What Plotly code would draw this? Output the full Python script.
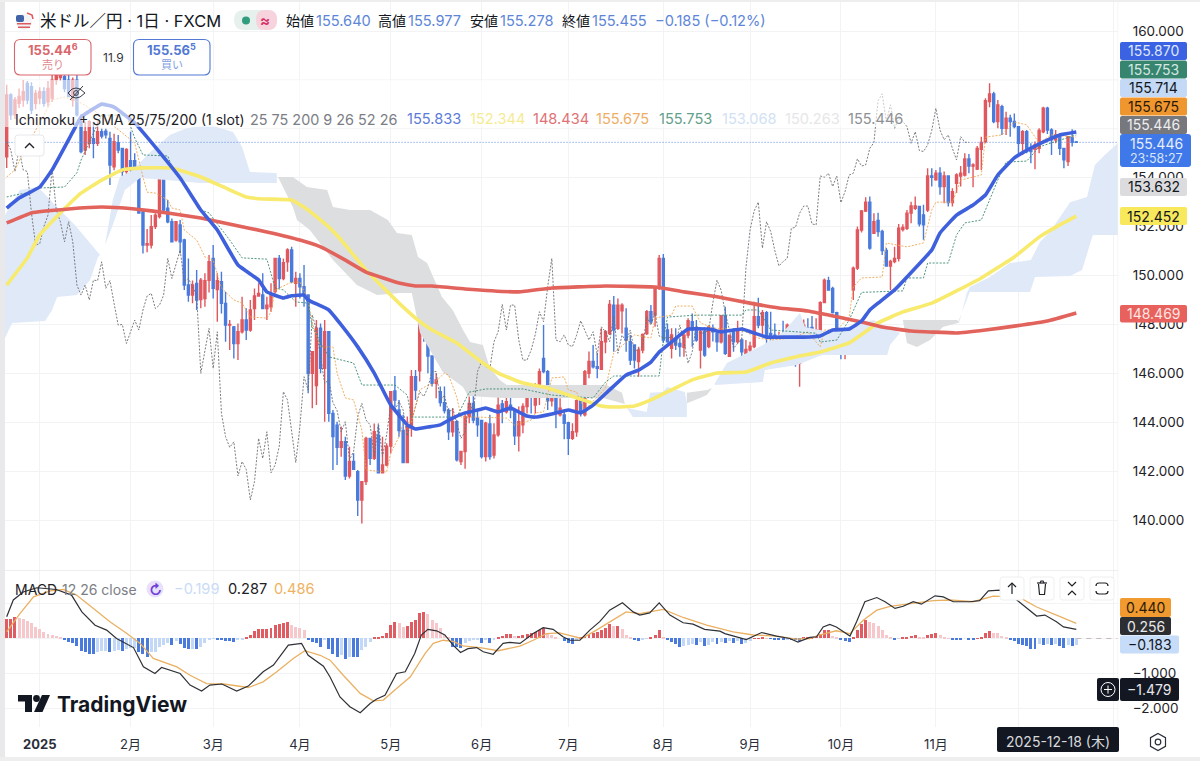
import plotly.graph_objects as go

W, H = 1200, 761
FONT = "Inter, 'Noto Sans CJK JP', sans-serif"

# ---------- candles (bar index 0 = 2024-12-19, 259 = last bar) ----------
opens = [154.85,157.38,156.57,157.04,157.18,157.86,157.72,157.04,157.26,157.52,
157.1,157.26,158.0,158.1,158.13,157.99,157.18,157.99,156.29,155.13,
155.41,155.6,155.41,155.88,155.9,155.61,154.45,155.43,155.2,154.25,
154.7,154.7,154.38,152.6,151.25,151.25,152.0,152.41,154.38,152.75,
152.2,151.45,152.07,151.45,149.61,149.2,149.68,149.02,149.06,149.8,
150.7,149.43,149.75,148.86,147.97,147.9,147.22,147.7,148.18,147.77,
148.65,149.16,149.2,148.65,148.72,149.34,150.7,149.88,150.56,151.04,
149.68,149.88,149.54,149.2,146.0,145.5,147.84,146.2,147.7,144.36,
143.88,142.97,143.2,141.8,142.39,141.98,140.82,141.57,143.34,142.52,
143.47,141.93,142.25,143.02,145.28,144.5,143.66,142.35,143.82,145.86,
146.1,148.39,147.43,146.71,145.59,145.25,144.8,144.48,143.61,144.02,
142.39,142.8,144.23,144.77,144.16,144.07,142.59,143.93,142.66,143.48,
144.75,144.43,144.7,144.5,143.44,143.89,144.64,145.25,144.7,145.39,
146.61,146.07,144.88,145.11,144.3,144.3,143.98,143.34,143.61,144.88,
144.3,146.0,146.48,146.27,146.16,147.29,147.63,148.79,147.84,148.56,
147.84,147.29,147.16,146.48,146.95,147.63,148.52,148.38,149.48,150.7,
147.77,147.02,147.43,147.22,147.06,147.56,148.11,147.77,146.95,147.7,
147.09,147.84,147.63,147.29,148.35,146.7,147.7,147.29,147.36,146.79,
146.95,147.09,148.31,147.97,148.48,147.63,147.56,147.3,147.43,147.16,
147.5,147.29,146.41,146.88,147.84,147.88,147.63,147.63,148.89,149.79,
149.47,148.48,147.77,147.0,147.2,149.41,150.3,151.86,152.64,153.0,
151.73,152.25,151.8,151.02,150.39,150.57,150.7,151.88,151.93,152.55,
152.75,152.82,152.48,152.68,154.07,153.91,154.18,153.64,154.07,152.98,
153.77,154.07,154.11,154.77,154.48,154.35,155.16,155.48,157.11,157.43,
156.3,156.9,156.02,156.43,156.3,156.09,155.41,155.88,155.2,155.16,
155.2,155.88,156.84,155.95,155.55,155.7,155.2,154.66,155.64,155.46]

highs = [157.8,157.45,157.3,157.65,158.0,157.95,157.9,157.6,157.7,157.7,
157.95,158.2,158.4,158.5,158.5,158.3,158.1,158.2,156.6,156.29,
156.35,156.29,156.3,156.0,156.0,155.88,155.8,155.75,155.2,155.2,
155.88,155.0,154.4,152.7,151.9,152.47,152.55,154.73,154.73,153.09,
152.33,152.2,152.27,151.5,150.7,149.8,150.22,149.9,150.09,150.84,
151.25,150.09,150.15,149.34,148.18,147.93,148.04,149.13,148.66,149.0,
149.47,149.68,150.09,149.13,149.68,150.7,150.84,150.7,151.11,151.18,
150.15,150.09,150.43,149.2,146.9,148.18,148.04,148.18,147.7,144.5,
144.02,143.82,143.41,143.0,142.73,142.05,141.57,143.41,143.34,143.95,
143.88,143.41,143.14,145.25,145.89,144.91,144.3,144.23,146.14,146.14,
148.45,148.43,147.5,146.71,146.0,145.46,145.46,144.57,144.57,144.09,
142.8,144.36,145.05,146.27,144.5,144.09,144.02,144.3,143.96,145.05,
144.91,145.25,145.43,144.5,144.64,144.77,145.32,145.59,145.59,146.2,
147.98,146.14,145.52,145.18,144.98,144.43,144.02,143.96,145.05,144.91,
146.14,146.89,147.16,146.82,147.84,147.77,149.0,149.16,149.06,148.86,
148.66,147.57,147.16,147.09,147.63,148.59,148.79,149.54,150.84,150.88,
148.04,147.84,147.84,147.43,147.63,148.25,148.45,148.18,147.77,147.88,
147.97,148.0,147.7,148.38,148.72,147.56,147.84,148.15,147.43,147.36,
147.29,148.93,149.09,148.59,148.55,148.52,148.04,147.7,148.15,148.04,
147.7,147.36,146.95,148.2,148.25,148.34,148.25,148.95,149.88,149.95,
149.54,148.52,147.77,147.22,147.77,150.37,152.0,152.68,153.2,153.23,
152.55,152.57,151.87,151.12,150.64,151.18,152.11,152.1,152.68,153.02,
153.23,152.84,152.89,154.39,154.39,154.32,154.43,154.25,154.07,153.57,
154.18,154.48,155.0,154.97,154.59,155.3,155.68,157.25,157.86,157.52,
157.18,156.98,156.7,156.57,156.63,156.09,155.95,155.95,155.41,155.48,
156.02,156.9,156.9,156.02,155.95,155.82,155.2,155.68,155.98,155.5]

lows = [154.4,156.36,156.4,156.85,156.9,157.0,156.6,156.8,157.0,156.9,
156.9,157.1,157.8,157.95,157.5,157.3,156.9,156.5,155.0,154.93,
155.2,154.8,155.3,155.6,155.6,153.7,154.3,155.0,153.77,153.9,
154.04,154.04,152.55,150.9,150.95,151.1,151.9,152.33,152.55,152.14,
151.38,151.38,150.9,149.41,148.93,148.86,148.59,148.66,148.72,149.3,
149.06,148.11,148.45,147.29,146.95,146.61,146.54,147.63,147.36,147.7,
148.18,149.13,148.65,148.18,148.52,149.27,149.47,149.81,150.15,149.68,
148.72,149.06,148.72,145.18,144.57,144.7,146.0,144.02,144.02,142.05,
142.25,142.59,141.64,141.7,142.07,140.16,139.86,141.43,142.25,142.45,
141.93,141.91,142.2,142.73,144.43,143.41,142.35,142.35,143.41,144.91,
145.66,147.29,146.0,145.46,144.98,144.64,144.36,143.27,143.41,142.39,
142.25,142.1,143.96,143.96,143.41,142.52,142.39,142.46,142.52,143.41,
143.96,144.36,144.16,143.07,142.8,143.55,144.36,144.36,144.36,144.7,
146.0,144.5,144.64,143.75,144.23,143.3,142.66,143.27,143.41,144.23,
144.23,145.8,146.2,145.8,146.14,146.82,147.57,146.88,147.77,147.63,
146.88,146.34,146.2,145.86,146.82,147.57,148.04,147.9,149.41,147.25,
147.25,146.61,146.95,146.68,146.68,147.43,147.09,147.29,146.2,146.68,
147.02,147.3,146.88,147.22,146.75,146.68,146.88,147.22,146.68,146.75,
146.75,147.02,147.84,147.5,146.82,147.16,146.34,147.09,147.09,147.09,
147.22,146.27,145.45,146.81,147.56,147.63,147.56,147.56,148.86,149.38,
148.45,147.36,146.57,146.57,146.95,149.0,150.23,151.76,152.6,151.05,
151.7,151.59,150.84,150.36,149.41,150.5,150.57,151.8,151.86,152.14,
152.68,152.0,151.46,152.6,153.64,153.88,153.3,152.95,152.82,152.82,
153.37,153.64,154.05,154.18,153.61,154.32,154.32,155.41,156.88,156.23,
156.02,155.75,155.75,155.68,156.02,154.93,154.93,155.0,154.59,154.35,
155.0,155.82,155.79,154.93,155.41,154.93,154.39,154.48,155.28,155.44]

closes = [157.38,156.57,157.18,157.32,157.52,157.18,156.77,157.45,157.52,157.04,
157.65,157.99,158.2,158.2,157.65,157.32,157.99,156.57,155.07,155.88,
156.29,155.41,155.88,155.7,155.75,154.52,155.47,155.13,154.25,155.16,
154.32,154.25,152.55,151.25,151.3,152.0,152.47,154.38,152.68,152.2,
151.38,152.2,151.38,149.61,149.2,149.61,149.0,149.81,149.79,150.56,
149.48,149.79,148.86,147.97,148.0,147.22,147.7,148.18,147.77,148.59,
149.16,149.27,148.65,148.79,149.2,150.7,149.88,150.52,151.04,149.75,
149.88,149.54,149.2,146.0,146.88,147.84,146.2,147.7,144.36,143.41,
142.97,143.2,141.8,142.39,142.07,140.82,141.57,143.34,142.52,143.61,
141.93,142.25,143.02,145.25,144.91,143.66,142.35,143.82,145.86,145.32,
148.39,147.77,146.71,145.59,145.73,144.8,144.48,143.61,144.02,142.46,
142.8,144.23,144.77,144.09,143.89,142.59,143.96,142.59,143.48,144.7,
144.5,144.84,144.5,143.44,144.02,144.64,145.25,145.05,145.43,146.07,
146.07,144.88,145.11,144.36,144.57,143.96,143.34,143.61,144.88,144.36,
146.07,146.48,146.27,146.2,147.29,147.7,148.82,147.77,148.79,148.79,
147.36,146.54,146.54,146.95,147.59,148.52,148.11,149.54,150.7,147.36,
147.29,147.57,147.16,147.09,147.56,148.15,147.77,147.36,147.7,146.75,
147.9,147.7,147.29,148.35,146.82,147.56,147.29,147.77,146.88,146.98,
147.11,148.31,147.97,148.48,147.52,147.47,147.43,147.5,147.16,147.97,
147.29,146.41,146.88,147.97,147.63,147.66,147.77,148.89,149.81,149.4,
148.48,147.77,147.02,147.22,147.43,150.3,151.86,152.64,153.0,151.12,
152.2,151.8,151.02,150.39,150.57,150.7,151.93,151.97,152.55,152.84,
152.84,152.11,152.07,154.07,154.02,154.18,153.64,154.07,152.98,153.43,
154.11,154.18,154.77,154.48,154.52,155.2,155.44,157.15,157.43,156.3,
156.98,156.02,156.43,156.3,156.09,155.41,155.88,155.11,155.07,155.34,
155.93,156.84,155.95,155.55,155.75,155.2,154.73,155.68,155.45,155.446]

assert len(opens) == len(highs) == len(lows) == len(closes) == 260
bars = list(range(260))

# ---------- moving averages ----------
sma25_x = [0,3,8,11,16,18,23,26,31,37,42,47,51,56,61,63,67,69,72,73,78,81,85,89,93,97,99,102,105,108,111,115,116,119,122,126,128,132,136,139,142,146,150,153,156,158,161,165,170,173,178,181,184,189,193,197,200,204,207,209,211,215,218,224,226,230,234,237,240,244,248,252,255,259]
sma25_y = [152.76,153.17,153.62,154.32,155.87,156.48,157.01,156.89,156.24,155.05,153.99,152.68,151.86,150.43,149.82,149.33,149.08,149.17,149.2,149.0,148.59,147.98,147.08,146.01,144.7,143.89,143.72,143.8,143.89,144.17,144.38,144.54,144.58,144.42,144.58,144.25,144.21,144.34,144.5,144.38,144.7,145.32,145.93,146.13,146.46,146.87,147.28,147.81,147.81,147.69,147.81,147.65,147.48,147.48,147.48,147.53,147.77,147.81,148.14,148.59,148.87,149.41,149.94,151.04,151.74,152.47,152.88,153.29,154.11,154.81,155.21,155.54,155.75,155.87]

sma75_x = [0,5,8,13,18,23,28,33,40,47,53,58,62,69,73,78,81,87,95,99,103,109,115,119,125,131,136,141,144,147,152,156,161,166,172,179,185,191,197,204,211,217,224,230,236,244,250,255,259]
sma75_y = [149.61,150.72,151.66,152.56,153.37,153.9,154.32,154.4,154.4,154.03,153.58,153.21,153.13,153.09,152.68,151.98,151.45,150.22,148.87,148.26,147.77,147.24,146.46,146.01,145.6,145.4,145.11,144.83,144.66,144.62,144.66,144.91,145.32,145.73,146.01,146.05,146.42,146.67,146.87,147.24,148.06,148.51,148.87,149.37,149.9,150.76,151.57,152.07,152.43]

sma200_x = [0,6,15,23,31,39,47,55,63,71,76,82,87,95,99,103,111,124,132,145,157,164,172,180,187,194,199,207,212,219,230,237,244,252,259]
sma200_y = [152.15,152.56,152.72,152.8,152.72,152.56,152.35,152.07,151.78,151.45,151.17,150.63,150.14,149.69,149.57,149.57,149.45,149.33,149.49,149.57,149.53,149.33,149.13,148.87,148.67,148.55,148.38,148.1,147.89,147.73,147.65,147.77,147.93,148.14,148.47]

# ---------- Ichimoku lines ----------
tenkan_x = [0,2,4,11,14,18,22,31,33,34,36,39,40,42,43,46,48,50,52,55,57,59,63,64,65,69,71,73,74,76,79,80,82,84,86,87,92,93,95,96,98,100,102,103,106,107,109,110,114,121,123,127,128,130,132,135,136,138,140,145,147,152,156,157,161,162,166,168,171,178,182,185,190,194,197,198,201,204,205,207,212,213,218,222,224,225,229,231,236,237,241,244,247,250,253,259]
tenkan_y = [154.03,154.32,155.01,157.18,157.3,157.06,156.65,155.42,154.03,153.41,153.37,153.09,152.76,152.68,151.86,151.45,150.76,150.63,149.49,149.0,148.87,148.3,148.26,148.5,149.41,149.73,149.73,149.0,148.06,147.08,147.08,146.01,144.99,144.91,143.68,142.05,141.96,142.74,143.4,143.97,144.01,145.32,145.52,145.52,146.01,145.93,145.03,144.21,144.21,144.17,143.88,144.09,144.38,144.42,145.81,145.85,145.32,145.23,144.5,145.4,146.83,147.57,147.44,148.26,148.38,148.75,148.75,148.06,147.85,147.77,147.44,147.36,147.44,147.69,147.08,147.77,147.77,148.3,149.53,149.9,149.94,151.33,151.17,151.33,152.68,153.0,153.0,153.9,154.11,155.66,155.75,156.28,156.16,155.42,155.75,155.66]

kijun_x = [0,2,6,8,14,17,18,23,29,31,33,39,40,47,49,54,57,63,65,67,70,73,74,78,84,86,94,97,98,109,112,116,125,132,142,145,147,158,159,160,167,178,179,182,185,196,197,201,204,207,217,218,222,223,228,230,232,236,238,240,242,247,250,253,259]
kijun_y = [153.21,153.29,153.41,153.58,153.62,154.2,154.72,156.56,156.56,155.62,154.93,154.89,154.44,152.68,152.56,151.45,150.72,150.67,149.49,149.41,148.92,148.87,147.89,146.67,146.42,145.52,145.52,145.11,144.21,144.21,145.23,145.36,145.36,145.11,144.99,145.64,145.89,145.89,147.36,148.3,148.38,148.38,148.59,148.59,147.77,147.64,147.28,147.36,148.18,149.31,149.37,149.9,149.9,150.51,150.51,151.66,152.15,152.27,153.09,153.91,154.64,154.68,155.26,155.42,155.75]

# chikou span: the closes drawn 26 bars back
chikou_x = bars[:-26]
chikou_y = closes[26:]

# ---------- Ichimoku cloud outlines ----------
cloud_a_x = [-0.4,3.2,7.6,11.7,16.5,22.6,22.1,20.2,17,12.2,11,9.3,1.3,-0.4]
cloud_a_y = [152.47,153.5,153.62,152.88,152.07,150.84,150.76,149.82,149.2,149.12,148.59,148.14,148.06,147.44]
cloud_b_x = [23.8,25.7,27.4,30.6,34,39.5,43.7,49.2,54.8,57,58.9,65.4,65.4,56.5,46.8,39.5,32.3,28.6,25.7]
cloud_b_y = [151.25,153.09,154.03,154.32,154.93,155.75,156.03,156.16,155.87,155.26,154.23,154.19,153.78,153.78,153.78,153.9,153.99,153.5,152.07]
cloud_c_x = [65.7,69.3,72.7,77.6,79,83.1,88,92.3,94.5,98.1,99.6,101.8,105.4,108,110.5,112.2,115.3,117,119.4,121.1,137.1,145.3,149,149.7,144.4,136.4,120.2,111.7,110.5,105.6,100.1,98.1,95.2,89.7,84.8,79,73.4,70.3,69.3,66.9]
cloud_c_y = [154.03,154.03,153.62,153.5,152.8,152.68,152.68,152.27,151.74,151.66,150.76,150.51,149.12,148.59,147.77,147.28,147.16,146.22,145.73,145.52,145.52,145.52,145.2,144.74,144.99,144.99,144.99,145.07,145.44,146.05,147.65,149.28,149.28,149.2,149.61,150.63,151.86,152.27,152.8,153.62]
cloud_d_x = [150.2,155,155.8,158.9,159.9,164.2,164.7,164.7,151.6]
cloud_d_y = [144.58,144.42,145.2,145.24,145.44,145.24,144.78,144.21,144.21]
cloud_e_x = [164.7,169.6,170.8,169.6,167.9,164.7]
cloud_e_y = [145.2,145.32,145.4,145.12,144.99,144.78]
cloud_f_x = [171.5,174.4,183.1,188,192.1,193.3,199.3,202.5,209.8,216.3,213.9,213.2,197.4,191.4,183.6,183.1,171.5]
cloud_f_y = [145.6,146.42,147.16,147.69,148.47,147.89,147.69,147.85,148.18,147.65,147.16,146.75,146.75,146.34,146.13,145.64,145.52]
cloud_g_x = [217,230.1,230.8,230.3,226.7,223.6,220.4,218]
cloud_g_y = [148.18,148.18,148.1,148.06,147.89,147.36,147.08,147.24]
cloud_h_x = [230.8,232.5,233.2,238.1,242.9,248,250.2,252.6,257.5,261.6,263.5,265.9,269.1,269.1,263,260.4,257.5,249,247.8,233.2,230.3]
cloud_h_y = [148.18,149.28,149.53,149.94,150.51,150.63,151.37,151.78,153.0,153.21,154.52,154.93,155.42,151.66,151.66,150.22,149.98,149.94,149.33,149.33,148.06]

# ---------- MACD pane ----------
macd_hist = [.57,.57,.62,.59,.57,.5,.43,.33,.27,.19,
.14,.11,.08,.03,-.05,-.1,-.14,-.21,-.36,-.4,
-.43,-.44,-.38,-.36,-.35,-.38,-.36,-.33,-.36,-.3,
-.27,-.26,-.38,-.43,-.52,-.4,-.38,-.24,-.19,-.14,
-.19,-.08,-.17,-.27,-.3,-.29,-.31,-.24,-.14,-.05,
-.01,-.02,-.05,-.06,-.08,-.11,-.04,-.02,.05,.11,
.21,.26,.26,.27,.29,.38,.41,.43,.46,.38,
.33,.3,.24,-.03,-.1,-.14,-.24,-.05,-.3,-.43,
-.52,-.48,-.59,-.52,-.52,-.53,-.33,-.24,-.1,.03,
.05,.08,.17,.38,.48,.43,.33,.36,.48,.53,
.74,.76,.69,.52,.43,.29,.1,.02,-.24,-.24,
-.27,-.14,-.08,-.05,-.03,-.13,-.04,-.13,-.05,.02,
.08,.12,.12,.07,.07,.11,.14,.17,.19,.24,
.29,.14,.1,.05,0,-.08,-.14,-.17,-.05,.02,
.07,.14,.17,.19,.24,.31,.4,.36,.36,.27,
.11,.03,-.05,-.06,-.02,-.01,.03,.1,.24,.05,
-.05,-.1,-.17,-.23,-.21,-.19,-.17,-.19,-.11,-.21,
-.19,-.1,-.17,-.1,-.14,-.08,-.14,-.06,-.17,-.14,
-.08,.01,.01,.05,.01,-.01,-.03,-.03,-.05,-.03,
-.03,-.05,-.08,.02,.04,.05,.08,.14,.24,.24,
.08,.03,-.03,-.07,-.1,.05,.24,.4,.52,.46,
.43,.36,.24,.1,.02,-.02,-.01,.02,.04,.08,
.1,.03,.02,.11,.13,.16,.1,.05,.01,-.03,
-.03,-.03,0,-.02,-.02,.01,.03,.17,.22,.17,
.16,.07,.02,-.03,-.08,-.17,-.19,-.21,-.29,-.29,
-.17,-.19,-.17,-.19,-.17,-.21,-.26,-.19,-.21,-.18]

macd_x = [0,1.6,4,7.3,12,15.7,18.2,21.4,24.2,26.6,30.7,33.1,35.9,37.5,42,44.4,47.2,49.2,52.1,55.7,58.5,62.1,64.6,68.2,71.4,73,76.7,78.3,80.7,83.1,85.6,88,89.6,91.6,94.4,96.5,98.8,100.4,102,104.1,106.1,108.1,109.9,111.7,113.8,115.4,117.8,120.2,121.8,124.3,127.5,129.9,132.3,134.7,136.4,138.8,141.2,143.6,146,149.1,151.7,153.3,155.7,158,160.6,163.8,166.2,169,172.7,173.9,179.1,182.8,186.4,189.6,191.6,194.5,196.1,197.7,199.3,200.9,204.2,205.8,207.8,210.7,212.7,215.1,217.1,219.5,221.5,224.8,226.8,229.2,233.2,235.6,237.7,240.5,244.6,249.4,251.4,254.2,255.9,259]
macd_y = [.62,1.1,1.33,1.45,1.4,1.24,.76,.38,.24,0,-.26,-.81,-1.0,-.83,-1.0,-1.33,-1.5,-1.33,-1.3,-1.5,-1.36,-.95,-.76,-.19,-.14,-.48,-.79,-1.1,-1.67,-1.95,-2.12,-1.86,-1.73,-1.62,-1.0,-.95,-.43,.1,.26,.22,.1,-.19,-.4,-.29,-.26,-.38,-.45,-.14,-.11,-.14,.14,.31,.26,.05,-.05,-.05,.24,.48,.81,1.02,.76,.67,.73,1.02,.67,.45,.41,.26,.21,.14,-.03,.17,.07,0,-.1,.03,.05,.33,.4,.33,.07,.48,1.05,1.17,1.05,.86,.92,1.05,.98,1.22,1.19,1.05,1.05,1.08,1.36,1.38,1.1,.64,.67,.48,.33,.26]

signal_x = [0,3.2,6.5,10.5,13.7,16.9,21,25,29.1,32.3,35.5,41.2,44.4,48.4,52.5,58.5,62.1,65.4,69.4,72.2,75.9,78.3,81.5,85.6,88.8,91.2,94.4,97.7,101.3,103.3,105.7,108.1,110.5,114.6,119,124.3,127.5,130.7,133.9,137.2,139.2,142.8,146,150,153.3,159,163.8,169.5,175.9,180.8,186.4,191.2,194.5,196.9,200.9,204.2,207.4,210.7,213.9,218.7,224.4,228.4,234,238.9,243.8,246.2,249.4,254.2,259]
signal_y = [.19,.71,1.19,1.36,1.4,1.24,.86,.48,.14,-.14,-.57,-.81,-1.05,-1.29,-1.3,-1.4,-1.24,-.95,-.57,-.35,-.48,-.62,-1.05,-1.57,-1.78,-1.76,-1.43,-1.1,-.43,-.14,-.05,-.08,-.21,-.26,-.35,-.22,-.05,.14,.16,.05,0,.24,.48,.76,.71,.83,.6,.38,.19,.1,.07,-.02,0,.1,.22,.14,.52,.81,.92,1.0,1.08,1.1,1.05,1.21,1.19,1.11,.9,.67,.43]

# ---------- axis ticks ----------
price_ticks = [140,142,144,146,148,150,152,154,160]
price_grid_only = [156,158]
macd_ticks = [-2,-1]
macd_tick_text = ["\u22122.000","\u22121.000"]
macd_grid_only = [0,1,2]
month_ticks = [8,30,50,71,93,115,136,159,180,202,225]
month_labels = ["<b>2025</b>","2\u6708","3\u6708","4\u6708","5\u6708","6\u6708","7\u6708","8\u6708","9\u6708","10\u6708","11\u6708"]
month_grid_only = [245,268]
last_price = 155.446

# colours
UP, DOWN = "#e0585e", "#4a7bdc"
CLOUD_BLUE, CLOUD_GRAY = "#dfe9f8", "#dddee0"
GRID = "#f2f3f5"

# pixel helpers for the chrome (panels, buttons, labels)
def X(p): return p / W
def Y(p): return 1 - p / H

fig = go.Figure()

def cloud(xs, ys, color):
    fig.add_trace(go.Scatter(x=xs, y=ys, mode="lines", fill="toself", fillcolor=color,
                             line=dict(width=0), hoverinfo="skip", showlegend=False))

for xs, ys, c in [(cloud_a_x, cloud_a_y, CLOUD_BLUE), (cloud_b_x, cloud_b_y, CLOUD_BLUE),
                  (cloud_c_x, cloud_c_y, CLOUD_GRAY), (cloud_d_x, cloud_d_y, CLOUD_BLUE),
                  (cloud_e_x, cloud_e_y, CLOUD_GRAY), (cloud_f_x, cloud_f_y, CLOUD_BLUE),
                  (cloud_g_x, cloud_g_y, CLOUD_GRAY), (cloud_h_x, cloud_h_y, CLOUD_BLUE)]:
    cloud(xs, ys, c)

fig.add_trace(go.Scatter(x=[-1, 270], y=[last_price, last_price], mode="lines",
                         line=dict(color="#5e8be0", width=1, dash="1px,2px"), showlegend=False))
fig.add_trace(go.Scatter(x=chikou_x, y=chikou_y, mode="lines",
                         line=dict(color="#6b6d73", width=0.9, dash="2px,1.5px"), showlegend=False))
fig.add_trace(go.Candlestick(x=bars, open=opens, high=highs, low=lows, close=closes,
                             increasing=dict(line=dict(color=UP, width=1.4), fillcolor=UP),
                             decreasing=dict(line=dict(color=DOWN, width=1.4), fillcolor=DOWN),
                             whiskerwidth=0, showlegend=False))
fig.add_trace(go.Scatter(x=tenkan_x, y=tenkan_y, mode="lines",
                         line=dict(color="#efa650", width=0.9, dash="2px,1.5px"), showlegend=False))
fig.add_trace(go.Scatter(x=kijun_x, y=kijun_y, mode="lines",
                         line=dict(color="#3b8a70", width=0.9, dash="2px,1.5px"), showlegend=False))
for xs, ys, c in [(sma75_x, sma75_y, "#f8ea6c"), (sma200_x, sma200_y, "#e2625c"), (sma25_x, sma25_y, "#3f60dc")]:
    fig.add_trace(go.Scatter(x=xs, y=ys, mode="lines",
                             line=dict(color=c, width=3.6, shape="spline", smoothing=0.3), showlegend=False))

# MACD histogram: strong colour while the bar grows, pale while it shrinks
hist_colors = []
for k, v in enumerate(macd_hist):
    prev = macd_hist[k - 1] if k else v
    if v >= 0:
        hist_colors.append("#de5c62" if v >= prev else "#f6c8cb")
    else:
        hist_colors.append("#4a7bdc" if v <= prev else "#c3d8f6")
fig.add_trace(go.Bar(x=bars, y=macd_hist, marker=dict(color=hist_colors, line=dict(width=0)),
                     width=0.72, xaxis="x2", yaxis="y2", showlegend=False))
fig.add_trace(go.Scatter(x=[259, 269], y=[0, 0], mode="lines", xaxis="x2", yaxis="y2",
                         line=dict(color="#c9b9bb", width=1, dash="5px,5px"), showlegend=False))
fig.add_trace(go.Scatter(x=signal_x, y=signal_y, mode="lines", xaxis="x2", yaxis="y2",
                         line=dict(color="#eab062", width=1.3), showlegend=False))
fig.add_trace(go.Scatter(x=macd_x, y=macd_y, mode="lines", xaxis="x2", yaxis="y2",
                         line=dict(color="#2f3136", width=1.2), showlegend=False))

shapes, anns = [], []

# gridlines whose labels sit behind the value boxes in the reference
for v in price_grid_only:
    shapes.append(dict(type="line", xref="paper", yref="y", x0=X(5), x1=X(1118), y0=v, y1=v,
                       line=dict(color=GRID, width=1), layer="below"))
for v in macd_grid_only:
    shapes.append(dict(type="line", xref="paper", yref="y2", x0=X(5), x1=X(1118), y0=v, y1=v,
                       line=dict(color=GRID, width=1), layer="below"))
for v in month_grid_only:
    shapes.append(dict(type="line", xref="x", yref="paper", x0=v, x1=v, y0=Y(727), y1=1,
                       line=dict(color=GRID, width=1), layer="below"))

def ann(x, y, text, size=13, color="#131722", anchor="left"):
    anns.append(dict(xref="paper", yref="paper", x=X(x), y=Y(y), text=text, showarrow=False,
                     xanchor=anchor, yanchor="middle", align="center",
                     font=dict(family=FONT, size=size, color=color), borderpad=0, borderwidth=0))

def rrect(x0, y0, x1, y1, r=3, fill="#fff", line=None, lw=1, opacity=1.0):
    p = (f"M{X(x0+r)},{Y(y0)} L{X(x1-r)},{Y(y0)} Q{X(x1)},{Y(y0)} {X(x1)},{Y(y0+r)} "
         f"L{X(x1)},{Y(y1-r)} Q{X(x1)},{Y(y1)} {X(x1-r)},{Y(y1)} L{X(x0+r)},{Y(y1)} "
         f"Q{X(x0)},{Y(y1)} {X(x0)},{Y(y1-r)} L{X(x0)},{Y(y0+r)} Q{X(x0)},{Y(y0)} {X(x0+r)},{Y(y0)} Z")
    shapes.append(dict(type="path", xref="paper", yref="paper", path=p, fillcolor=fill, opacity=opacity,
                       line=dict(color=line or "rgba(0,0,0,0)", width=lw if line else 0), layer="above"))

def poly(pts, fill=None, line=None, lw=1.2, close=True):
    p = "M" + " L".join(f"{X(a)},{Y(b)}" for a, b in pts) + (" Z" if close else "")
    shapes.append(dict(type="path", xref="paper", yref="paper", path=p,
                       fillcolor=fill or "rgba(0,0,0,0)",
                       line=dict(color=line or "rgba(0,0,0,0)", width=lw if line else 0), layer="above"))

def circle(cx, cy, r, fill=None, line=None, lw=1.2):
    shapes.append(dict(type="circle", xref="paper", yref="paper", x0=X(cx-r), x1=X(cx+r),
                       y0=Y(cy+r), y1=Y(cy-r), fillcolor=fill or "rgba(0,0,0,0)",
                       line=dict(color=line or "rgba(0,0,0,0)", width=lw if line else 0), layer="above"))

# page chrome
rrect(0, 0, 5, 761, r=0, fill="#e9e9eb")
rrect(0, 0, 1200, 2, r=0, fill="#eeeeef")
rrect(0, 757, 1200, 761, r=0, fill="#eeeeef")
rrect(5, 570, 1118, 570.8, r=0, fill="#e8e9ec")
rrect(1117.6, 0, 1118.2, 727, r=0, fill="#eff0f2")
rrect(5, 80, 905, 127, r=0, fill="#ffffff", opacity=0.6)

# header
circle(24, 22, 8, fill="#f3f3f5")
rrect(16, 15, 24, 22, r=2, fill="#3f62a8")
rrect(17, 23, 31, 24.5, r=0, fill="#dd5a5f")
rrect(18, 26.5, 30, 28, r=0, fill="#dd5a5f")
poly([(27, 13), (32, 15), (33, 19)], line="#dd5a5f", lw=1.6, close=False)
ann(40, 21, "米ドル／円 · 1日 · FXCM", 16.5)
rrect(234, 10, 277, 30, r=10, fill="#e6f1ee")
rrect(256, 10, 277, 30, r=9, fill="#f7d3de")
circle(246, 20.5, 4, fill="#2f9d7e")
ann(264.5, 20.5, "<b>≈</b>", 15, "#d6336c", "center")
BL = "#5d86d8"
for x, lab, val in [(286, "始値", "155.640"), (378, "高値", "155.977"), (470, "安値", "155.278"), (562, "終値", "155.455")]:
    ann(x, 21, lab, 14)
    ann(x + 30, 21, val, 14.6, BL)
ann(655, 21, "\u22120.185 (\u22120.12%)", 14.6, BL)

# sell / buy boxes
rrect(14.5, 39.5, 91, 75, r=6, fill="#fff", line="#d9666c", lw=1.1)
ann(52.5, 50, "<b>155.44<sup>6</sup></b>", 13, "#d9666c", "center")
ann(52.5, 65, "売り", 11, "#e0898c", "center")
ann(113, 57, "11.9", 12, "#33363c", "center")
rrect(133.5, 39.5, 210, 75, r=6, fill="#fff", line="#5279d4", lw=1.1)
ann(171.5, 50, "<b>155.56<sup>5</sup></b>", 13, "#5279d4", "center")
ann(171.5, 65, "買い", 11, "#7f9fe0", "center")

# eye icon
poly([(68, 93), (72, 89), (76, 88), (80, 89), (85, 93), (80, 97), (76, 98), (72, 97)], line="#3a3c42", lw=1)
circle(76, 93, 2.4, line="#3a3c42", lw=1)
poly([(70, 100), (83, 86)], line="#3a3c42", lw=1, close=False)

# indicator legend
ann(15, 119, "Ichimoku + SMA 25/75/200 (1 slot)", 14, "#1e2126")
ann(250, 119, "25 75 200 9 26 52 26", 14.4, "#7b7e85")
for x, val, c in [(407, "155.833", "#5d7bd8"), (470, "152.344", "#f6eb92"), (533, "148.434", "#e07276"),
                  (596, "155.675", "#edae68"), (659, "155.753", "#64a08c"), (722, "153.068", "#d2e1f3"),
                  (785, "150.263", "#e6e6e8"), (848, "155.446", "#8e9095")]:
    ann(x, 119, val, 14.6, c)
rrect(15, 135, 44, 156, r=3, fill="#fff", line="#e6e7ea", lw=1)
poly([(25, 148), (29.5, 143.5), (34, 148)], line="#1e2126", lw=1.4, close=False)

# price labels
def label(y0, y1, text, fill, color, x1=1187):
    rrect(1120, y0, x1, y1, r=2, fill=fill)
    ann((1120 + x1) / 2, (y0 + y1) / 2, text, 14, color, "center")

label(42, 60, "155.870", "#3a62e2", "#dfe7fb")
label(60.5, 78.5, "155.753", "#37846f", "#d4e8e2")
label(79, 97, "155.714", "#c3d9f6", "#131722")
label(97.5, 115.5, "155.675", "#f0962f", "#2a1a08")
label(116, 134, "155.446", "#76787e", "#eeeeef")
rrect(1120, 134, 1191, 167, r=3, fill="#3f78e8")
ann(1156, 143, "155.446", 14, "#e6eefc", "center")
ann(1156, 158, "23:58:27", 12.5, "#d8e5fb", "center")
label(178, 196, "153.632", "#dcdcde", "#131722")
label(207, 225, "152.452", "#f8e85c", "#131722")
label(305, 322.5, "148.469", "#e8615c", "#fde6e4")

# MACD legend and labels
ann(15, 589, "MACD", 14, "#1e2126")
ann(62, 589, "12 26 close", 14, "#7b7e85")
circle(155, 589, 8.5, fill="#e9e0fb")
ann(155, 589, "<b>↻</b>", 14, "#6d3fd6", "center")
ann(174, 589, "\u22120.199", 14.6, "#c9dcf6")
ann(228, 589, "0.287", 14.6, "#1e2126")
ann(274, 589, "0.486", 14.6, "#efb25f")
rrect(1120, 598, 1171, 617, r=2, fill="#f09a30")
ann(1145.5, 607.5, "0.440", 14, "#2a1a08", "center")
rrect(1120, 617, 1171, 635, r=2, fill="#2d2e31")
ann(1145.5, 626, "0.256", 14, "#e8e8ea", "center")
rrect(1120, 635.5, 1179, 653.5, r=2, fill="#c6dcf8")
ann(1149.5, 644.5, "\u22120.183", 14, "#131722", "center")
rrect(1097, 678, 1119, 701, r=2, fill="#131722")
circle(1108, 689.5, 7, line="#ffffff", lw=1)
poly([(1104, 689.5), (1112, 689.5)], line="#ffffff", lw=1, close=False)
poly([(1108, 685.5), (1108, 693.5)], line="#ffffff", lw=1, close=False)
rrect(1120, 678, 1179, 701, r=2, fill="#131722")
ann(1149.5, 689.5, "\u22121.479", 14, "#e8e8ea", "center")

# pane buttons
for x0 in (1000, 1030, 1060, 1090):
    rrect(x0, 577, x0 + 24, 600, r=3, fill="#ffffff", line="#eeeff1", lw=1)
poly([(1012, 594), (1012, 583)], line="#1e2126", close=False)
poly([(1008, 587), (1012, 583), (1016, 587)], line="#1e2126", close=False)
poly([(1037, 583), (1047, 583)], line="#1e2126", close=False)
poly([(1038.5, 584), (1039.5, 594.5), (1044.5, 594.5), (1045.5, 584)], line="#1e2126", close=False)
poly([(1040, 583), (1041, 581), (1043, 581), (1044, 583)], line="#1e2126", close=False)
poly([(1068, 582), (1072, 586), (1076, 582)], line="#1e2126", close=False)
poly([(1068, 595), (1072, 591), (1076, 595)], line="#1e2126", close=False)
rrect(1096, 583, 1108, 594, r=3, fill="rgba(0,0,0,0)", line="#1e2126", lw=1.2)
rrect(1095, 586, 1109, 591, r=0, fill="#ffffff")

# TradingView logo
poly([(18, 695), (32, 695), (32, 712), (25, 712), (25, 701.5), (18, 701.5)], fill="#131722")
circle(36.5, 698.5, 3.4, fill="#131722")
poly([(42, 695), (50, 695), (42.5, 712), (34, 712)], fill="#131722")
ann(57, 704, "<b>TradingView</b>", 21, "#131722")

# date crosshair label and settings icon
rrect(997, 727, 1119, 752, r=2, fill="#131722")
ann(1058, 741, "2025-12-18 (木)", 14, "#d8d9dc", "center")
poly([(1158, 733.5), (1165.5, 737.7), (1165.5, 746.3), (1158, 750.5), (1150.5, 746.3), (1150.5, 737.7)], line="#2a2e39", lw=1.2)
circle(1158, 742, 2.8, line="#2a2e39", lw=1.2)

fig.update_layout(
    width=W, height=H, autosize=False, margin=dict(l=0, r=0, t=0, b=0),
    paper_bgcolor="#ffffff", plot_bgcolor="#ffffff", hovermode=False, showlegend=False,
    font=dict(family=FONT, size=13, color="#131722"),
    xaxis=dict(domain=[X(5), X(1118)], range=[-0.41, 269.1], anchor="y", rangeslider=dict(visible=False),
               tickmode="array", tickvals=month_ticks, showticklabels=False, ticks="",
               showgrid=True, gridcolor=GRID, gridwidth=1, zeroline=False, showline=False),
    yaxis=dict(domain=[Y(570), 1], range=[137.955, 161.268], anchor="x", side="right",
               tickmode="array", tickvals=price_ticks, ticktext=[f"{v:.3f}" for v in price_ticks],
               ticks="outside", ticklen=11, tickcolor="rgba(0,0,0,0)", showgrid=True, gridcolor=GRID,
               zeroline=False, showline=False, tickfont=dict(family=FONT, size=13.5, color="#1e2126")),
    xaxis2=dict(domain=[X(5), X(1118)], range=[-0.41, 269.1], anchor="y2",
                tickmode="array", tickvals=month_ticks, ticktext=month_labels, ticks="outside", ticklen=5,
                tickcolor="rgba(0,0,0,0)", showgrid=True, gridcolor=GRID, zeroline=False, showline=False,
                tickfont=dict(family=FONT, size=13, color="#2a2e39")),
    yaxis2=dict(domain=[Y(727), Y(570)], range=[-2.529, 1.957], anchor="x2", side="right",
                tickmode="array", tickvals=macd_ticks, ticktext=macd_tick_text, ticks="outside", ticklen=11,
                tickcolor="rgba(0,0,0,0)", showgrid=True, gridcolor=GRID, zeroline=False, showline=False,
                tickfont=dict(family=FONT, size=13.5, color="#1e2126")),
    shapes=shapes, annotations=anns, bargap=0,
)

fig.write_html("out.html", config=dict(displayModeBar=False),
               post_script="document.body.style.margin='0';document.body.style.overflow='hidden';")
